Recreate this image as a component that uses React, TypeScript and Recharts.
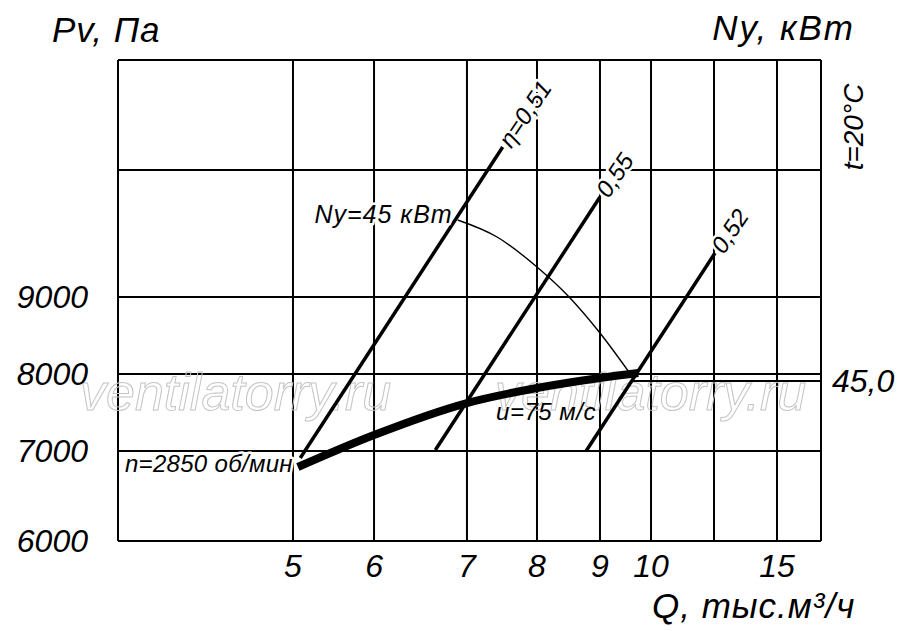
import React from 'react';
import { ComposedChart, Line, XAxis, YAxis, CartesianGrid, LabelList, Customized } from 'recharts';

// ---------- axes ----------
const qTicks = [5, 6, 7, 8, 9, 10, 12.5, 15];
const qTickLabels = ['5', '6', '7', '8', '9', '10', '', '15'];
const qDomain = [4, 17];
const pTicks = [6000, 7000, 8000, 9000, 11000];
const pTickLabels = ['6000', '7000', '8000', '9000', ''];
const pDomain = [6000, 13000];

// the drawing uses a non-uniform (hand-drawn, roughly logarithmic) grid:
// knot values and their relative position along each axis
const qKnots = [4, 5, 6, 7, 8, 9, 10, 12.5, 15, 17];
const qKnotPos = [0, 0.2489, 0.3642, 0.4964, 0.596, 0.6856, 0.7582, 0.8478, 0.9374, 1];
const pKnots = [6000, 7000, 8000, 9000, 11000, 13000];
const pKnotPos = [0, 0.1871, 0.3472, 0.5073, 0.7713, 1];

// ---------- series ----------
// fan characteristic n = 2850 rpm
const mainQ = [5.06, 6, 7, 8, 9, 9.75];
const mainP = [6822, 7208, 7623, 7818, 7948, 8013];
// efficiency lines
const eta051Q = [5.09, 7.51];
const eta051P = [6922, 11418];
const eta055Q = [6.66, 9.0];
const eta055P = [7013, 10575];
const eta052Q = [8.78, 12.54];
const eta052P = [7000, 9693];
// installed power Ny = 45 kW curve
const nyArcQ = [6.9, 7.43, 8, 8.51, 9, 9.65];
const nyArcP = [10213, 9945, 9472, 9000, 8532, 7948];
// Ny = 45,0 level to the right scale
const nyLevelQ = [9.65, 17];
const nyLevelP = [7909, 7909];

const toRows = (qs: number[], ps: number[]) => qs.map((q, i) => ({ q, p: ps[i] }));
const mainData = toRows(mainQ, mainP);
const eta051Data = toRows(eta051Q, eta051P);
const eta055Data = toRows(eta055Q, eta055P);
const eta052Data = toRows(eta052Q, eta052P);
const nyArcData = toRows(nyArcQ, nyArcP);
const nyLevelData = toRows(nyLevelQ, nyLevelP);

// ---------- piecewise scale (d3-like interface) ----------
function makeKnotScale(knots: number[], pos: number[], d?: number[], r?: number[]): any {
  let dom: number[] = d ? [...d] : [knots[0], knots[knots.length - 1]];
  let rng: number[] = r ? [...r] : [0, 1];
  const frac = (v: number) => {
    const n = knots.length;
    let i = 0;
    if (v <= knots[0]) i = 0;
    else if (v >= knots[n - 1]) i = n - 2;
    else {
      while (i < n - 2 && v > knots[i + 1]) i++;
    }
    const t = (v - knots[i]) / (knots[i + 1] - knots[i]);
    return pos[i] + t * (pos[i + 1] - pos[i]);
  };
  const scale: any = (v: any) => rng[0] + frac(Number(v)) * (rng[1] - rng[0]);
  scale.domain = (x?: any) => {
    if (x === undefined) return dom;
    dom = [...x];
    return scale;
  };
  scale.range = (x?: any) => {
    if (x === undefined) return rng;
    rng = [...x];
    return scale;
  };
  scale.copy = () => makeKnotScale(knots, pos, dom, rng);
  scale.ticks = () => knots.slice();
  scale.tickFormat = () => (v: any) => String(v);
  scale.invert = (px: number) => {
    const f = (px - rng[0]) / (rng[1] - rng[0]);
    let i = 0;
    while (i < pos.length - 2 && f > pos[i + 1]) i++;
    const t = (f - pos[i]) / (pos[i + 1] - pos[i]);
    return knots[i] + t * (knots[i + 1] - knots[i]);
  };
  scale.clamp = () => scale;
  scale.nice = () => scale;
  return scale;
}

const qScale = makeKnotScale(qKnots, qKnotPos);
const pScale = makeKnotScale(pKnots, pKnotPos);

const FONT = "'Liberation Sans', Arial, sans-serif";
const halo = { stroke: '#fff', strokeWidth: 5, paintOrder: 'stroke' as const, strokeLinejoin: 'round' as const };

const getXY = (p: any) => ({
  x: Number(p.x ?? p.viewBox?.x),
  y: Number(p.y ?? p.viewBox?.y),
});

const QTick = (props: any) => {
  const { x, y, payload } = props;
  const label = qTickLabels[qTicks.indexOf(payload.value)] ?? '';
  return (
    <text x={x} y={y} textAnchor="middle" fontFamily={FONT} fontStyle="italic" fontSize={32} fill="#000">
      {label}
    </text>
  );
};

const PTick = (props: any) => {
  const { x, y, payload } = props;
  const label = pTickLabels[pTicks.indexOf(payload.value)] ?? '';
  return (
    <text x={x} y={y} dy="0.33em" textAnchor="end" fontFamily={FONT} fontStyle="italic" fontSize={32} fill="#000">
      {label}
    </text>
  );
};

const rotatedEnd = (text: string, idx: number) => (props: any) => {
  if (props.index !== idx) return null;
  const { x, y } = getXY(props);
  return (
    <text
      x={x + 3}
      y={y}
      dy="0.35em"
      transform={`rotate(-56 ${x} ${y})`}
      fontFamily={FONT}
      fontStyle="italic"
      fontSize={24}
      fill="#000"
      {...halo}
    >
      {text}
    </text>
  );
};

const pointLabel = (text: string, idx: number, dx: number, dy: number, anchor: string, size: number, spacing = 0, withHalo = true) => (props: any) => {
  if (props.index !== idx) return null;
  const { x, y } = getXY(props);
  return (
    <text
      x={x + dx}
      y={y + dy}
      textAnchor={anchor}
      fontFamily={FONT}
      fontStyle="italic"
      fontSize={size}
      letterSpacing={spacing}
      fill="#000"
      {...(withHalo ? halo : {})}
    >
      {text}
    </text>
  );
};

const Titles = () => (
  <g fontFamily={FONT} fontStyle="italic" fill="#000">
    <text x={52} y={42} fontSize={35} letterSpacing={1}>Pv, Па</text>
    <text x={855} y={40} fontSize={35} letterSpacing={2} textAnchor="end">Ny, кВт</text>
    <text x={0} y={0} transform="translate(863,127) rotate(-90)" textAnchor="middle" fontSize={28}>t=20°C</text>
    <text x={652} y={618} fontSize={35} letterSpacing={1}>Q, тыс.м³/ч</text>
  </g>
);

const Watermark = () => (
  <g fontFamily={FONT} fontStyle="italic" fontSize={52} fill="none" stroke="#c4c4c4" strokeWidth={1}>
    <text x={80} y={410}>ventilatorry.ru</text>
    <text x={495} y={410}>ventilatorry.ru</text>
  </g>
);

export default function App() {
  return (
    <div style={{ position: 'absolute', left: 0, top: 0, width: 900, height: 631, background: '#fff' }}>
      <ComposedChart width={900} height={631} margin={{ top: 60, right: 79, bottom: 30, left: 18 }}>
        <CartesianGrid stroke="#000" strokeWidth={2} fill="none" />
        <XAxis
          xAxisId={0}
          type="number"
          dataKey="q"
          scale={qScale}
          domain={qDomain}
          ticks={qTicks}
          interval={0}
          height={60}
          tickSize={0}
          tickMargin={36}
          axisLine={false}
          tickLine={false}
          tick={QTick}
        />
        <YAxis
          yAxisId={0}
          type="number"
          dataKey="p"
          scale={pScale}
          domain={pDomain}
          ticks={pTicks}
          interval={0}
          width={100}
          tickSize={0}
          tickMargin={30}
          axisLine={false}
          tickLine={false}
          tick={PTick}
        />
        <Line data={nyLevelData} dataKey="p" type="linear" stroke="#000" strokeWidth={1.8} dot={false} isAnimationActive={false}>
          <LabelList dataKey="p" content={pointLabel('45,0', 1, 11, 11, 'start', 32, 0, false)} />
        </Line>
        <Line data={nyArcData} dataKey="p" type="monotone" stroke="#000" strokeWidth={1.4} dot={false} isAnimationActive={false}>
          <LabelList dataKey="p" content={pointLabel('Ny=45 кВт', 0, -5, 3, 'end', 25, 1)} />
        </Line>
        <Line data={eta051Data} dataKey="p" type="linear" stroke="#000" strokeWidth={3.5} dot={false} isAnimationActive={false}>
          <LabelList dataKey="p" content={rotatedEnd('η=0,51', 1)} />
        </Line>
        <Line data={eta055Data} dataKey="p" type="linear" stroke="#000" strokeWidth={3.5} dot={false} isAnimationActive={false}>
          <LabelList dataKey="p" content={rotatedEnd('0,55', 1)} />
        </Line>
        <Line data={eta052Data} dataKey="p" type="linear" stroke="#000" strokeWidth={3.5} dot={false} isAnimationActive={false}>
          <LabelList dataKey="p" content={rotatedEnd('0,52', 1)} />
        </Line>
        <Line data={mainData} dataKey="p" type="monotone" stroke="#000" strokeWidth={8} dot={false} isAnimationActive={false}>
          <LabelList dataKey="p" content={pointLabel('n=2850 об/мин', 0, -5, 5, 'end', 24, 0.3)} />
          <LabelList dataKey="p" content={pointLabel('u=75 м/с', 3, 9, 32, 'middle', 24, 0.5, false)} />
        </Line>
        <Customized component={Titles} />
        <Customized component={Watermark} />
      </ComposedChart>
    </div>
  );
}
